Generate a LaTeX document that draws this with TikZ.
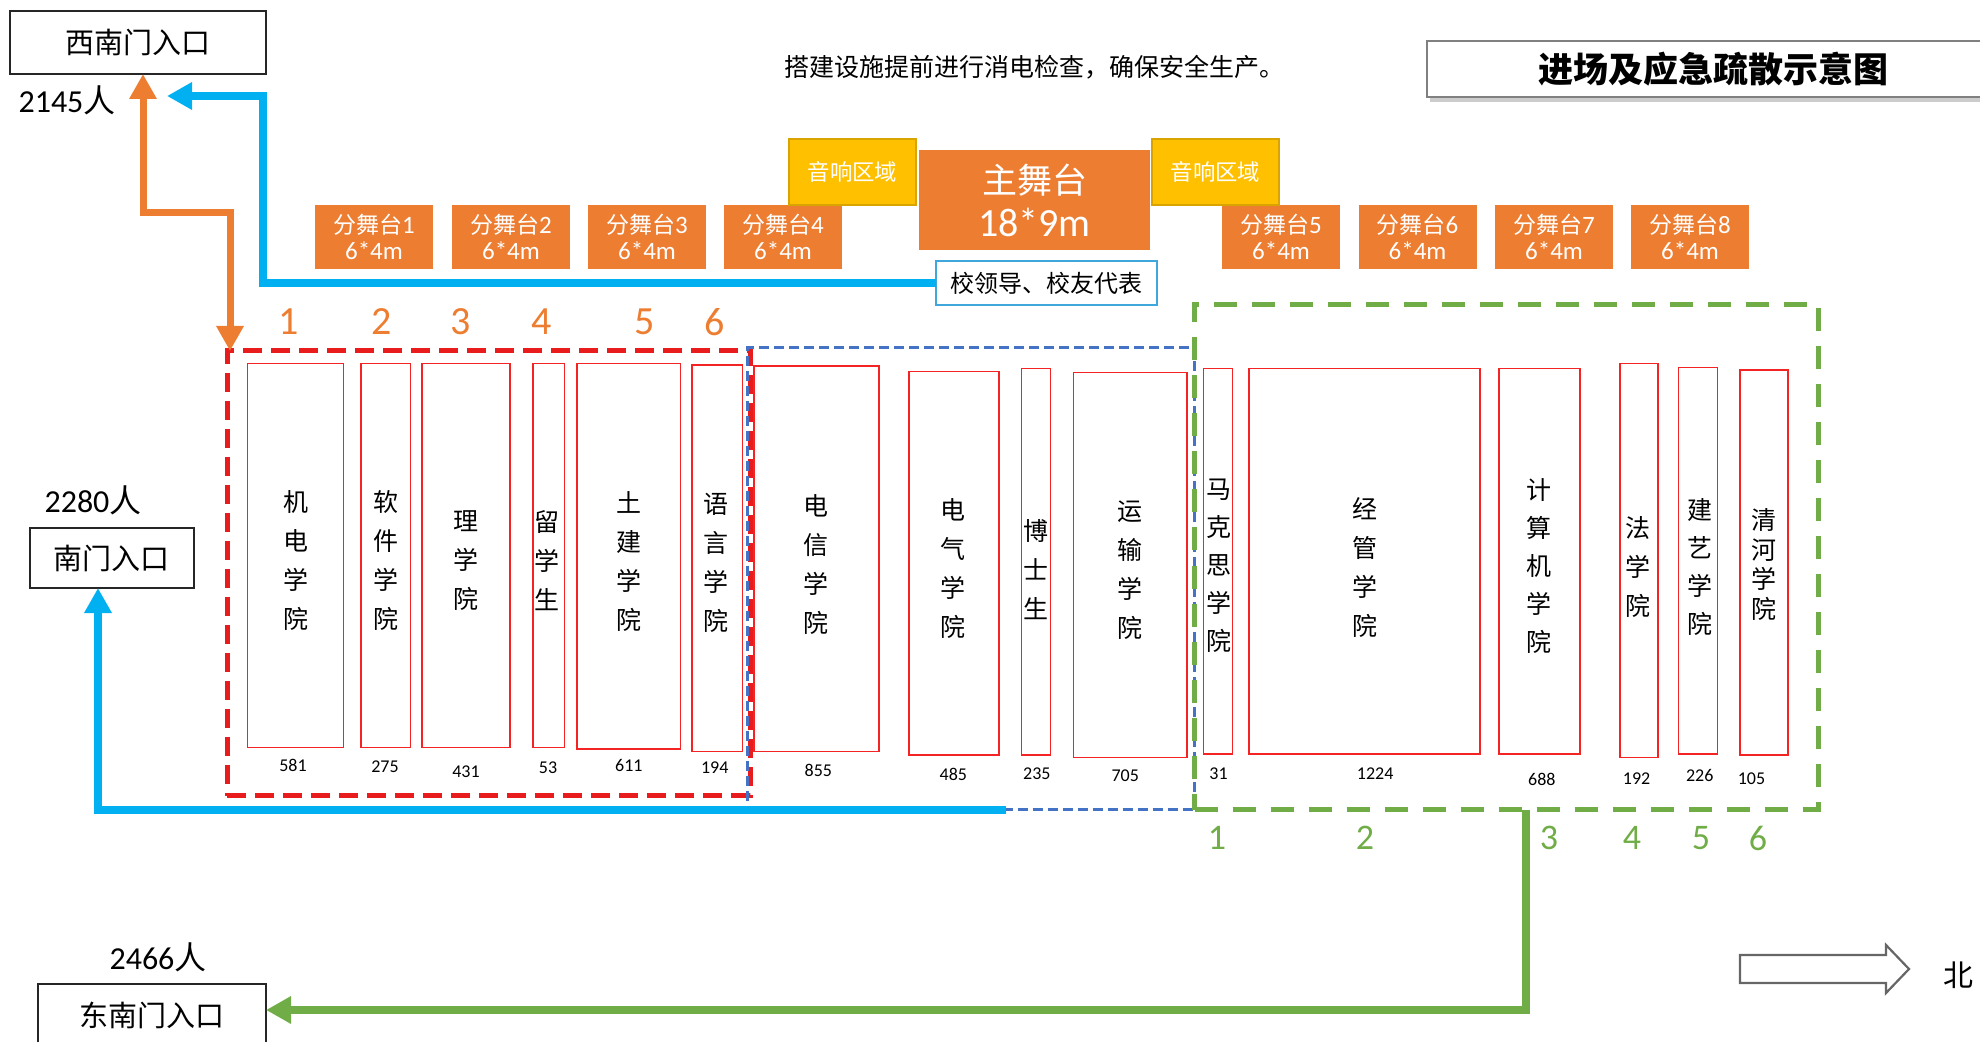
\documentclass[tikz,border=0pt]{standalone}
\usepackage{fontspec}
\setmainfont{Carlito}
\newfontfamily\cjk{Noto Sans CJK SC}
\usetikzlibrary{arrows.meta,fit,shadows}
\definecolor{cOrange}{HTML}{ED7D31}
\definecolor{cYellow}{HTML}{FFC000}
\definecolor{cGold}{HTML}{D9A300}
\definecolor{cBlue}{HTML}{00B0F0}
\definecolor{cGreen}{HTML}{70AD47}
\definecolor{cRed}{HTML}{F42424}
\definecolor{cRedDash}{HTML}{E81C1C}
\definecolor{cSteel}{HTML}{4472C4}
\definecolor{cLead}{HTML}{3FA7DC}
\begin{document}
\begin{tikzpicture}[x=0.5pt,y=-0.5pt,
  every node/.style={inner sep=0pt, outer sep=0pt},
  college/.style={draw=cRed, line width=0.75pt},
  ctext/.style={font=\cjk\fontsize{12.5}{19.5}\selectfont, align=center},
  cnum/.style={font=\fontsize{9}{10}\selectfont},
  substage/.style={fill=cOrange, text=white, align=center, minimum width=59pt, minimum height=32pt, font=\fontsize{12.5}{13}\selectfont},
  audio/.style={fill=cYellow, draw=cGold, line width=0.6pt, text=white, minimum width=63.5pt, minimum height=33pt, font=\cjk\fontsize{11.2}{12}\selectfont},
  mainstage/.style={fill=cOrange, text=white, align=center, font=\fontsize{20}{21.5}\selectfont},
  gate/.style={draw=black!85, line width=0.9pt, font=\cjk\fontsize{14.5}{16}\selectfont},
  headcount/.style={font=\fontsize{16}{18}\selectfont},
  onum/.style={text=cOrange, font=\fontsize{20}{22}\selectfont},
  gnum/.style={text=cGreen, font=\fontsize{18}{20}\selectfont},
  redzone/.style={draw=cRedDash, line width=2.5pt, dash pattern=on 9.5pt off 4.5pt},
  bluezone/.style={draw=cSteel, line width=1.3pt, dash pattern=on 5pt off 2.5pt},
  greenzone/.style={draw=cGreen, line width=2.4pt, dash pattern=on 11.5pt off 7.5pt},
  flow/.style={line width=4pt, arrows={-Triangle[length=12.5pt,width=13pt]}},
]
\useasboundingbox (0,0) rectangle (1980,1042);

% zones
\node[redzone, fit={(227.3,351) (750.1,795.6)}] (zr) {};
\node[bluezone, fit={(747.6,347.3) (1194.6,809.5)}] (zb) {};
\node[greenzone, fit={(1194.6,304.3) (1818.4,809.5)}] (zg) {};

% colleges
\node[college, fit={(247.5,363.7) (343.5,747.6)}] (c1) {};
\node[college, fit={(361.2,363.7) (410.4,747.6)}] (c2) {};
\node[college, fit={(421.8,363.7) (510.2,747.6)}] (c3) {};
\node[college, fit={(532.9,363.7) (564.5,747.6)}] (c4) {};
\node[college, fit={(577.1,363.7) (680.6,748.8)}] (c5) {};
\node[college, fit={(692,365) (742.5,751.4)}] (c6) {};
\node[college, fit={(753.9,366.2) (878.9,751.4)}] (c7) {};
\node[college, fit={(909.2,371.3) (998.9,755.2)}] (c8) {};
\node[college, fit={(1021.6,368.7) (1050.6,755.2)}] (c9) {};
\node[college, fit={(1073.4,372.5) (1187,757.7)}] (c10) {};
\node[college, fit={(1203.4,368.7) (1232.5,753.9)}] (c11) {};
\node[college, fit={(1248.9,368.7) (1480,753.9)}] (c12) {};
\node[college, fit={(1498.9,368.7) (1579.8,753.9)}] (c13) {};
\node[college, fit={(1620.2,363.7) (1658.1,757.7)}] (c14) {};
\node[college, fit={(1678.3,367.5) (1717.4,753.9)}] (c15) {};
\node[college, fit={(1740.1,370) (1788.1,755.2)}] (c16) {};

\node[ctext] (t1) at (295.5,560.7) {机\\电\\学\\院};
\node[ctext] (t2) at (386.4,560) {软\\件\\学\\院};
\node[ctext] (t3) at (466,560.7) {理\\学\\院};
\node[ctext] (t4) at (546.8,560.7) {留\\学\\生};
\node[ctext] (t5) at (628.9,561.3) {土\\建\\学\\院};
\node[ctext] (t6) at (716,562.6) {语\\言\\学\\院};
\node[ctext] (t7) at (815.8,564.5) {电\\信\\学\\院};
\node[ctext] (t8) at (953.4,568.3) {电\\气\\学\\院};
\node[ctext] (t9) at (1035.5,569.5) {博\\士\\生};
\node[ctext] (t10) at (1130.2,570.2) {运\\输\\学\\院};
\node[ctext, font=\cjk\fontsize{12.5}{19}\selectfont] (t11) at (1218.6,565.7) {马\\克\\思\\学\\院};
\node[ctext] (t12) at (1365.1,567) {经\\管\\学\\院};
\node[ctext, font=\cjk\fontsize{12.5}{19}\selectfont] (t13) at (1539.3,565.7) {计\\算\\机\\学\\院};
\node[ctext] (t14) at (1637.9,567) {法\\学\\院};
\node[ctext, font=\cjk\fontsize{12.5}{19}\selectfont] (t15) at (1699.7,567) {建\\艺\\学\\院};
\node[ctext, font=\cjk\fontsize{12.5}{14.7}\selectfont] (t16) at (1764.1,564.5) {清\\河\\学\\院};

\node[cnum] (n1) at (293,765) {581};
\node[cnum] (n2) at (385,766.5) {275};
\node[cnum] (n3) at (466,771.6) {431};
\node[cnum] (n4) at (548,767.8) {53};
\node[cnum] (n5) at (628.9,765.3) {611};
\node[cnum] (n6) at (714.7,767.8) {194};
\node[cnum] (n7) at (818.3,770.3) {855};
\node[cnum] (n8) at (953.4,774.1) {485};
\node[cnum] (n9) at (1036.8,774.1) {235};
\node[cnum] (n10) at (1125.2,775.4) {705};
\node[cnum] (n11) at (1218.6,774.1) {31};
\node[cnum] (n12) at (1375.2,774.1) {1224};
\node[cnum] (n13) at (1541.9,779.1) {688};
\node[cnum] (n14) at (1636.6,779.1) {192};
\node[cnum] (n15) at (1699.7,775.4) {226};
\node[cnum] (n16) at (1751.5,779.1) {105};

% zone numbers
\node[onum] (o1) at (289,322) {1};
\node[onum] (o2) at (382,322) {2};
\node[onum] (o3) at (461,322) {3};
\node[onum] (o4) at (542,322) {4};
\node[onum] (o5) at (645,322) {5};
\node[onum] (o6) at (715,322) {6};
\node[gnum] (g1) at (1217,838) {1};
\node[gnum] (g2) at (1365,838) {2};
\node[gnum] (g3) at (1549,838) {3};
\node[gnum] (g4) at (1632,838) {4};
\node[gnum] (g5) at (1701,838) {5};
\node[gnum] (g6) at (1758,838) {6};

% stages
\node[substage] (s1) at (374,237) {{\cjk\fontsize{11.5}{13}\selectfont 分舞台}1\\6*4m};
\node[substage] (s2) at (511,237) {{\cjk\fontsize{11.5}{13}\selectfont 分舞台}2\\6*4m};
\node[substage] (s3) at (647,237) {{\cjk\fontsize{11.5}{13}\selectfont 分舞台}3\\6*4m};
\node[substage] (s4) at (783,237) {{\cjk\fontsize{11.5}{13}\selectfont 分舞台}4\\6*4m};
\node[substage] (s5) at (1281,237) {{\cjk\fontsize{11.5}{13}\selectfont 分舞台}5\\6*4m};
\node[substage] (s6) at (1417.5,237) {{\cjk\fontsize{11.5}{13}\selectfont 分舞台}6\\6*4m};
\node[substage] (s7) at (1554,237) {{\cjk\fontsize{11.5}{13}\selectfont 分舞台}7\\6*4m};
\node[substage] (s8) at (1690,237) {{\cjk\fontsize{11.5}{13}\selectfont 分舞台}8\\6*4m};
\node[audio] (a1) at (852.5,172) {音响区域};
\node[audio] (a2) at (1215.5,172) {音响区域};
\node[mainstage, minimum width=115.5pt, minimum height=50pt] (ms) at (1034.5,200) {{\cjk\fontsize{17.5}{21.5}\selectfont 主舞台}\\18*9m};
\node[draw=cLead, line width=0.9pt, fill=white, minimum width=110.5pt, minimum height=22pt, font=\cjk\fontsize{12}{14}\selectfont] (lead) at (1046.5,283) {校领导、校友代表};

% titles
\node[font=\cjk\fontsize{12.5}{14}\selectfont] (note) at (1034,67) {搭建设施提前进行消电检查，确保安全生产。};
\node[draw=black!50, line width=0.6pt, fill=white, drop shadow={shadow xshift=1.5pt, shadow yshift=-2.5pt, fill=black!40}, minimum width=286pt, minimum height=28pt, font=\cjk\bfseries\fontsize{17.5}{20}\selectfont] (tb) at (1713,69) {进场及应急疏散示意图};

% gates
\node[gate, minimum width=128pt, minimum height=31.5pt] (wsg) at (138,42.5) {西南门入口};
\node[gate, minimum width=82pt, minimum height=30pt] (sg) at (112,558) {南门入口};
\node[gate, minimum width=114pt, minimum height=31pt] (seg) at (152,1015) {东南门入口};
\node[headcount] (h1) at (67,100) {2145{\cjk 人}};
\node[headcount] (h2) at (93,500) {2280{\cjk 人}};
\node[headcount] (h3) at (158,957) {2466{\cjk 人}};

% flows
\coordinate (bt1) at (263,283);
\coordinate (bt2) at (263,96);
\coordinate (bttip) at (167,96);
\draw[flow, cBlue] (lead.west) -- (bt1) -- (bt2) -- (bttip);

\coordinate (oc1) at (143,213);
\coordinate (oc2) at (230,213);
\draw[cOrange, line width=3.5pt, arrows={Triangle[length=12.5pt,width=13pt]-Triangle[length=12.5pt,width=13pt]}]
  (oc1 |- wsg.south) -- (oc1) -- (oc2) -- (oc2 |- zr.north);

\coordinate (bb0) at (1006,809.5);
\coordinate (bb1) at (98,809.5);
\draw[flow, cBlue] (bb0) -- (bb1) -- (bb1 |- sg.south);

\coordinate (gg0) at (1525.5,809.5);
\coordinate (gg1) at (1525.5,1010);
\draw[flow, cGreen] (gg0) -- (gg1) -- (gg1 -| seg.east);

% north
\draw[draw=black!60, line width=1.1pt, fill=white] (1740,955) -- (1886,955) -- (1886,945) -- (1909,969) -- (1886,993) -- (1886,983) -- (1740,983) -- cycle;
\node[font=\cjk\fontsize{15}{16}\selectfont] (north) at (1958,975) {北};
\end{tikzpicture}
\end{document}
